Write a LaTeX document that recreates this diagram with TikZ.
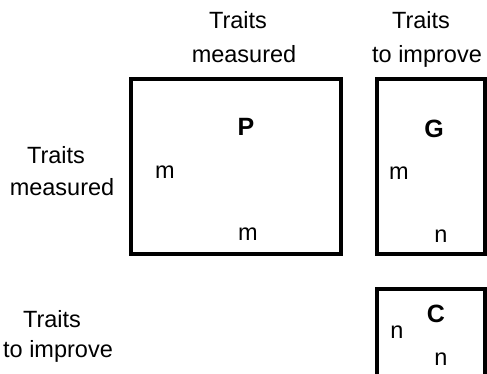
\documentclass[tikz,border=0pt]{standalone}
\usepackage{fontspec}
\setmainfont{Liberation Sans}
\begin{document}
\begin{tikzpicture}[x=1pt,y=-1pt,
  lbl/.style={anchor=base,inner sep=0pt,font=\fontsize{23.5}{28}\selectfont},
  mat/.style={anchor=base,inner sep=0pt,font=\fontsize{25}{30}\selectfont\bfseries},
  blk/.style={draw=black,line width=3.2pt,fill=none}]
\useasboundingbox (0,0) rectangle (487,373);
\clip (0,0) rectangle (487,373);
% column headings
\node[lbl] (h1a) at (238,28) {Traits};
\node[lbl] (h1b) at (244,62) {measured};
\node[lbl] (h2a) at (421,28) {Traits};
\node[lbl] (h2b) at (427,62) {to improve};
% row headings
\node[lbl] (r1a) at (56,163) {Traits};
\node[lbl] (r1b) at (62,195) {measured};
\node[lbl] (r2a) at (52,327) {Traits};
\node[lbl] (r2b) at (58,357) {to improve};
% matrix blocks
\draw[blk] (131,79) rectangle (341,254);
\draw[blk] (377,79) rectangle (485,254);
\draw[blk] (377,289) rectangle (485,385);
% block P
\node[mat] (P) at (246,135) {P};
\node[lbl] (Pm1) at (165,178) {m};
\node[lbl] (Pm2) at (248,240) {m};
% block G
\node[mat] (G) at (434,137) {G};
\node[lbl] (Gm) at (399,179) {m};
\node[lbl] (Gn) at (441,242) {n};
% block C
\node[mat] (C) at (436,322) {C};
\node[lbl] (Cn1) at (397,338) {n};
\node[lbl] (Cn2) at (441,365) {n};
\end{tikzpicture}
\end{document}
